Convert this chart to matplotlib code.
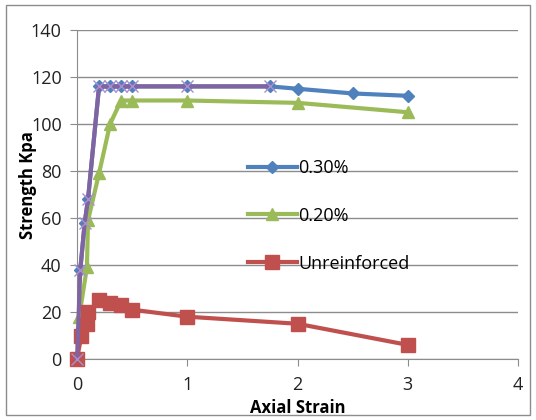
import matplotlib.pyplot as plt
from matplotlib.patches import Rectangle

# Axial strain vs strength for each fibre content
x_030 = [0.03, 0.07, 0.10, 0.2, 0.3, 0.4, 0.5, 1.0, 1.75, 2.0, 2.5, 3.0]
y_030 = [38, 58, 68, 116, 116, 116, 116, 116, 116, 115, 113, 112]

x_trend = [0, 0.03, 0.07, 0.10, 0.2, 0.3, 0.4, 0.5, 1.0, 1.75]
y_trend = [0, 38, 58, 68, 116, 116, 116, 116, 116, 116]

x_020 = [0.02, 0.09, 0.10, 0.2, 0.3, 0.4, 0.5, 1.0, 2.0, 3.0]
y_020 = [18, 39, 59, 79, 100, 110, 110, 110, 109, 105]

x_unr = [0, 0.04, 0.09, 0.10, 0.2, 0.3, 0.4, 0.5, 1.0, 2.0, 3.0]
y_unr = [0, 10, 15, 20, 25, 24, 23, 21, 18, 15, 6]

blue = '#4F81BD'
green = '#9BBB59'
red = '#C0504D'
purple = '#8064A2'

plt.rcParams['font.family'] = ['Open Sans', 'DejaVu Sans']

fig = plt.figure(figsize=(5.36, 4.2), dpi=100)
ax = fig.add_axes([77/536, 1 - 359/420, (518 - 77)/536, (359 - 30)/420])

ax.plot(x_030, y_030, color=blue, lw=3, marker='D', ms=6, label='0.30%',
        zorder=3, clip_on=False)
ax.plot(x_020, y_020, color=green, lw=3, marker='^', ms=9, label='0.20%',
        zorder=3, clip_on=False)
ax.plot(x_unr, y_unr, color=red, lw=3, marker='s', ms=10, label='Unreinforced',
        zorder=3, clip_on=False)
ax.plot(x_trend, y_trend, color=purple, lw=3, marker='x', ms=8, mew=1,
        markeredgecolor='#A98FD0', zorder=4, clip_on=False)

ax.set_xlim(0, 4)
ax.set_ylim(0, 140)
ax.set_xticks([0, 1, 2, 3, 4])
ax.set_yticks(range(0, 141, 20))
ax.yaxis.grid(True, color='#8c8c8c', lw=1)
ax.set_axisbelow(True)
for s in ['top', 'right']:
    ax.spines[s].set_visible(False)
for s in ['left', 'bottom']:
    ax.spines[s].set_color('#8c8c8c')
ax.tick_params(axis='both', colors='#8c8c8c', labelcolor='#222222',
               labelsize=13, length=5, direction='out')
ax.tick_params(axis='x', pad=7)
ax.tick_params(axis='y', pad=6)

fig.text(28/536, 1 - 185/420, 'Strength Kpa', rotation=90, fontsize=12,
         fontweight='bold', ha='center', va='center')
fig.text(298/536, 1 - 408/420, 'Axial Strain', fontsize=12,
         fontweight='bold', ha='center', va='center')

ax.legend(loc='upper left', bbox_to_anchor=((248 - 77)/441, (359 - 159)/329),
          frameon=False, fontsize=13, numpoints=1, handlelength=2.7,
          handletextpad=0.1, labelspacing=1.65, borderaxespad=0, borderpad=0)

# chart border
fig.patches.append(Rectangle((6/536, 5/420), 524/536, 410/420, transform=fig.transFigure,
                             fill=False, edgecolor='#8c8c8c', lw=1))

fig.savefig('out.png', dpi=100)
